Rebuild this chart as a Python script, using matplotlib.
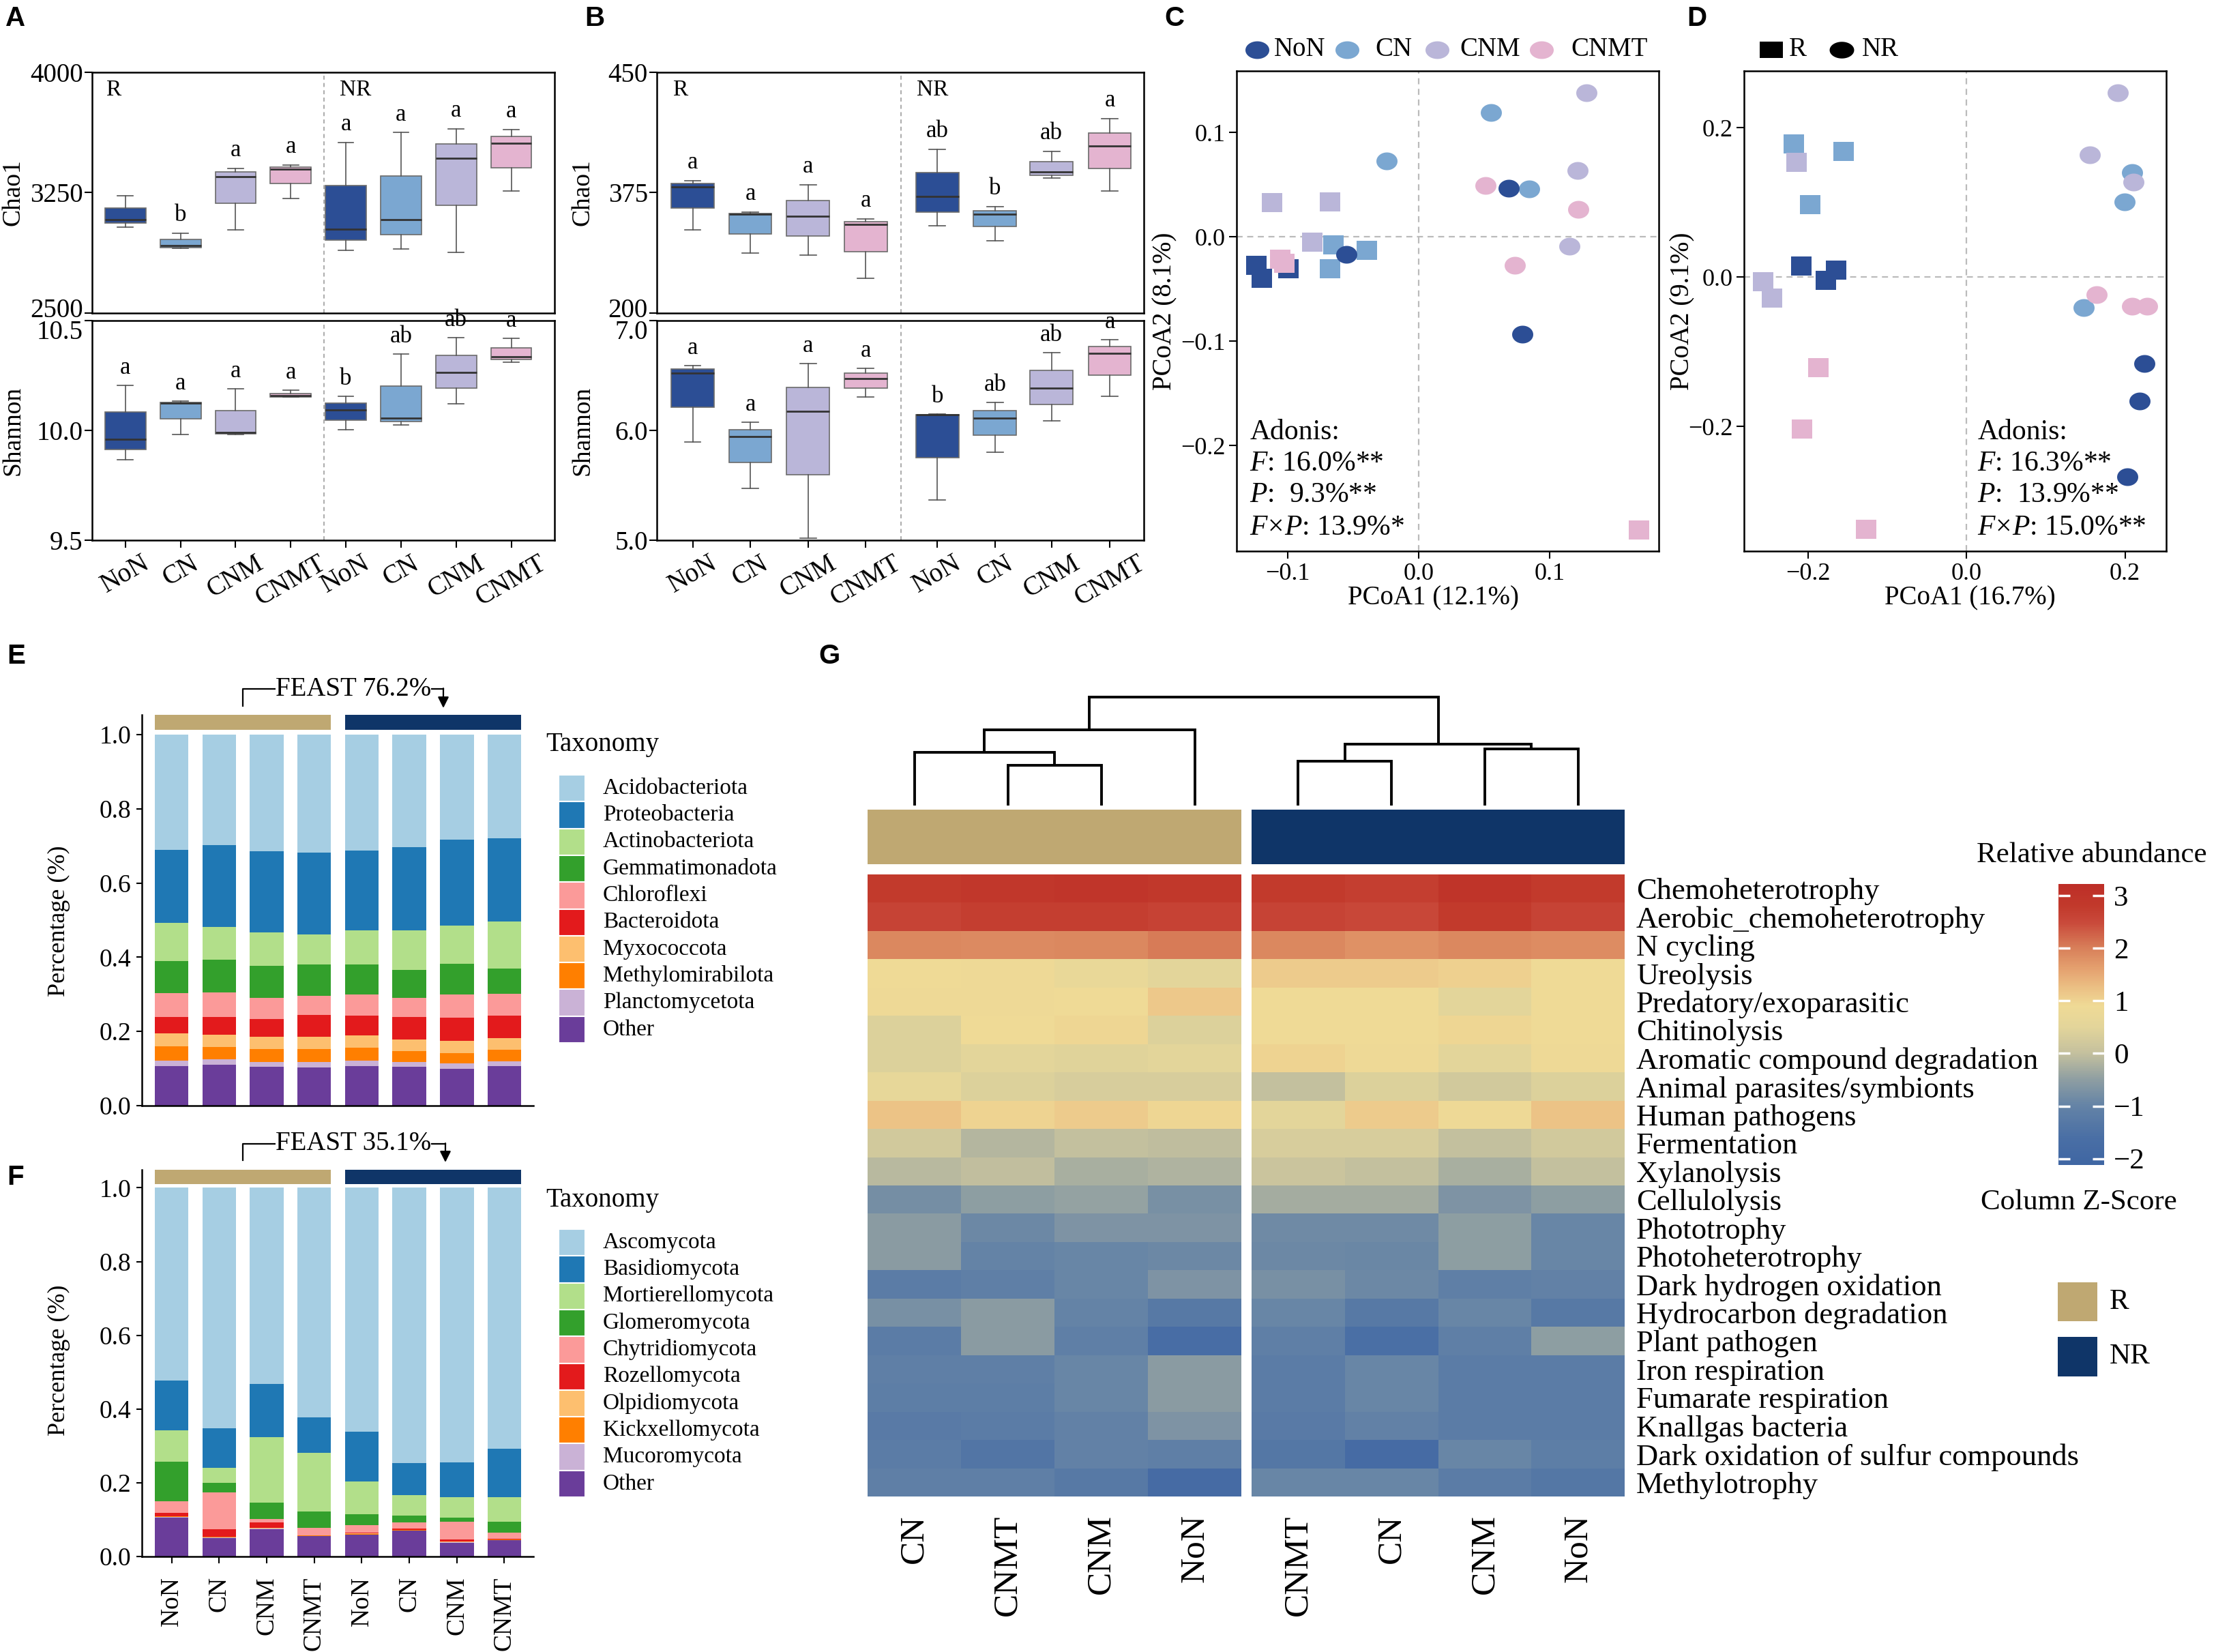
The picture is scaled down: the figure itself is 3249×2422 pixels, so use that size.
import numpy as np
import matplotlib
matplotlib.use('Agg')
import matplotlib.pyplot as plt
from matplotlib.path import Path
from matplotlib.colors import LinearSegmentedColormap, Normalize
from matplotlib.cm import ScalarMappable
from matplotlib.patches import Rectangle
from matplotlib.transforms import ScaledTranslation

plt.rcParams['font.family'] = ['Liberation Serif', 'DejaVu Serif']
plt.rcParams['mathtext.fontset'] = 'custom'
plt.rcParams['mathtext.rm'] = 'Liberation Serif'
plt.rcParams['mathtext.it'] = 'Liberation Serif:italic'
plt.rcParams['mathtext.bf'] = 'Liberation Serif:bold'
plt.rcParams['axes.linewidth'] = 1.8

# ------------------------------------------------------------------ data
treatments = ['NoN', 'CN', 'CNM', 'CNMT']
sites = ['R', 'NR']
box_labels = treatments * 2
treat_colors = {'NoN': '#2C4E95', 'CN': '#7BA7D1', 'CNM': '#BAB6D9', 'CNMT': '#E4B4D0'}
site_colors = ['#BFA872', '#0F3568']

# box stats: [whislo, q1, median, q3, whishi]  (R: NoN CN CNM CNMT, NR: NoN CN CNM CNMT)
a_chao1 = [[3037, 3059, 3083, 3154, 3232], [2905, 2910, 2920, 2959, 2998],
           [3017, 3183, 3349, 3378, 3400], [3212, 3307, 3398, 3410, 3422],
           [2890, 2956, 3024, 3293, 3563], [2898, 2990, 3083, 3354, 3624],
           [2878, 3171, 3463, 3554, 3646], [3259, 3407, 3559, 3600, 3644]]
a_chao1_letters = ['', 'b', 'a', 'a', 'a', 'a', 'a', 'a']
a_shannon = [[9.865, 9.913, 9.959, 10.084, 10.206], [9.980, 10.052, 10.123, 10.126, 10.133],
             [9.980, 9.984, 9.991, 10.091, 10.189], [10.153, 10.153, 10.158, 10.167, 10.183],
             [10.002, 10.046, 10.093, 10.123, 10.155], [10.025, 10.039, 10.055, 10.201, 10.347],
             [10.121, 10.192, 10.265, 10.342, 10.422], [10.311, 10.324, 10.335, 10.377, 10.418]]
a_shannon_letters = ['a', 'a', 'a', 'a', 'b', 'ab', 'ab', 'a']
b_chao1 = [[351.9, 365.3, 378.8, 380.7, 382.5], [337.2, 349.4, 361.7, 362.2, 362.9],
           [336.0, 348.2, 360.4, 370.2, 380.0], [321.5, 338.4, 355.3, 357.0, 358.5],
           [354.3, 363.1, 372.7, 387.4, 402.0], [345.0, 353.8, 361.7, 363.6, 366.3],
           [384.2, 385.9, 388.1, 394.2, 400.6], [375.9, 390.0, 404.2, 412.3, 421.1]]
b_chao1_letters = ['a', 'a', 'a', 'a', 'ab', 'b', 'ab', 'a']
b_shannon = [[5.896, 6.211, 6.522, 6.561, 6.593], [5.474, 5.708, 5.942, 6.009, 6.076],
             [5.021, 5.598, 6.172, 6.391, 6.611], [6.306, 6.384, 6.473, 6.519, 6.568],
             [5.368, 5.750, 6.140, 6.140, 6.147], [5.803, 5.959, 6.111, 6.182, 6.257],
             [6.087, 6.235, 6.384, 6.547, 6.710], [6.313, 6.504, 6.699, 6.763, 6.823]]
b_shannon_letters = ['a', 'a', 'a', 'a', 'b', 'ab', 'ab', 'a']

# PCoA (panel C: bacteria, panel D: fungi)
c_trt = ['CNM', 'CNM', 'CNM', 'CN', 'CN', 'CN', 'NoN', 'NoN', 'NoN', 'CNMT', 'CNMT', 'CNMT',
         'CN', 'CN', 'CN', 'CNM', 'CNM', 'CNM', 'CNMT', 'CNMT', 'CNMT', 'NoN', 'NoN', 'NoN']
c_site = ['R'] * 12 + ['NR'] * 12
c_x = [-0.112, -0.0678, -0.081, -0.065, -0.0398, -0.0678, -0.124, -0.1199, -0.0997, -0.1055, -0.1025, 0.168,
       0.055, -0.0246, 0.0843, 0.128, 0.1213, 0.1146, 0.0507, 0.1216, 0.0731, 0.0686, 0.079, -0.0552]
c_y = [0.0326, 0.0338, -0.0053, -0.0079, -0.0128, -0.0304, -0.0274, -0.0398, -0.0304, -0.0215, -0.0255, -0.2807,
       0.119, 0.073, 0.0462, 0.138, 0.0638, -0.0086, 0.0495, 0.0266, -0.027, 0.0465, -0.093, -0.0169]
d_trt = ['CN', 'CN', 'CN', 'CNM', 'CNM', 'CNM', 'NoN', 'NoN', 'NoN', 'CNMT', 'CNMT', 'CNMT',
         'CN', 'CN', 'CN', 'CNM', 'CNM', 'CNM', 'CNMT', 'CNMT', 'CNMT', 'NoN', 'NoN', 'NoN']
d_site = ['R'] * 12 + ['NR'] * 12
d_x = [-0.2184, -0.1553, -0.1974, -0.2145, -0.257, -0.246, -0.2088, -0.1649, -0.1781, -0.1868, -0.2075, -0.1272,
       0.2092, 0.1991, 0.1478, 0.1908, 0.1557, 0.211, 0.164, 0.2092, 0.2276, 0.2241, 0.218, 0.2026]
d_y = [0.178, 0.1686, 0.0969, 0.1534, -0.0063, -0.0277, 0.0147, 0.0089, -0.0042, -0.1215, -0.2031, -0.3377,
       0.1398, 0.101, -0.0408, 0.2471, 0.1634, 0.1267, -0.0236, -0.0393, -0.0393, -0.1162, -0.166, -0.267]
c_adonis = ['Adonis:', r'$F$: 16.0%**', r'$P$:  9.3%**', r'$F\!\times\!P$: 13.9%*']
d_adonis = ['Adonis:', r'$F$: 16.3%**', r'$P$:  13.9%**', r'$F\!\times\!P$: 15.0%**']

# Stacked composition (8 samples: R NoN CN CNM CNMT, NR NoN CN CNM CNMT)
bac_taxa = ['Acidobacteriota', 'Proteobacteria', 'Actinobacteriota', 'Gemmatimonadota', 'Chloroflexi',
            'Bacteroidota', 'Myxococcota', 'Methylomirabilota', 'Planctomycetota', 'Other']
bac_abund = [[0.311, 0.298, 0.314, 0.319, 0.312, 0.303, 0.284, 0.280],
             [0.197, 0.221, 0.219, 0.219, 0.215, 0.225, 0.231, 0.223],
             [0.103, 0.087, 0.091, 0.082, 0.092, 0.106, 0.102, 0.127],
             [0.085, 0.089, 0.085, 0.085, 0.082, 0.075, 0.083, 0.068],
             [0.065, 0.066, 0.058, 0.051, 0.056, 0.052, 0.063, 0.059],
             [0.044, 0.048, 0.047, 0.059, 0.054, 0.060, 0.062, 0.061],
             [0.036, 0.033, 0.034, 0.033, 0.033, 0.032, 0.033, 0.032],
             [0.037, 0.033, 0.035, 0.035, 0.035, 0.030, 0.028, 0.030],
             [0.016, 0.015, 0.013, 0.014, 0.015, 0.013, 0.014, 0.013],
             [0.106, 0.110, 0.104, 0.103, 0.106, 0.104, 0.100, 0.107]]
fun_taxa = ['Ascomycota', 'Basidiomycota', 'Mortierellomycota', 'Glomeromycota', 'Chytridiomycota',
            'Rozellomycota', 'Olpidiomycota', 'Kickxellomycota', 'Mucoromycota', 'Other']
fun_abund = [[0.523, 0.652, 0.532, 0.622, 0.661, 0.746, 0.744, 0.707],
             [0.135, 0.108, 0.144, 0.096, 0.135, 0.088, 0.095, 0.132],
             [0.084, 0.040, 0.178, 0.159, 0.090, 0.055, 0.056, 0.066],
             [0.108, 0.027, 0.045, 0.046, 0.028, 0.019, 0.011, 0.030],
             [0.032, 0.099, 0.009, 0.019, 0.021, 0.017, 0.048, 0.016],
             [0.008, 0.020, 0.015, 0.001, 0.003, 0.002, 0.006, 0.002],
             [0.001, 0.001, 0.001, 0.000, 0.001, 0.001, 0.001, 0.001],
             [0.001, 0.002, 0.001, 0.001, 0.001, 0.001, 0.001, 0.001],
             [0.002, 0.001, 0.001, 0.001, 0.001, 0.001, 0.001, 0.001],
             [0.106, 0.050, 0.074, 0.055, 0.059, 0.070, 0.037, 0.044]]
taxa_colors = ['#A6CEE3', '#1F78B4', '#B2DF8A', '#33A02C', '#FB9A99',
               '#E31A1C', '#FDBF6F', '#FF7F00', '#CAB2D6', '#6A3D9A']
feast_bac = 'FEAST 76.2%'
feast_fun = 'FEAST 35.1%'

# FAPROTAX heatmap (column z-scores)
functions = ['Chemoheterotrophy', 'Aerobic_chemoheterotrophy', 'N cycling', 'Ureolysis',
             'Predatory/exoparasitic', 'Chitinolysis', 'Aromatic compound degradation',
             'Animal parasites/symbionts', 'Human pathogens', 'Fermentation', 'Xylanolysis',
             'Cellulolysis', 'Phototrophy', 'Photoheterotrophy', 'Dark hydrogen oxidation',
             'Hydrocarbon degradation', 'Plant pathogen', 'Iron respiration', 'Fumarate respiration',
             'Knallgas bacteria', 'Dark oxidation of sulfur compounds', 'Methylotrophy']
heat_R_cols = ['CN', 'CNMT', 'CNM', 'NoN']
heat_NR_cols = ['CNMT', 'CN', 'CNM', 'NoN']
heat_R = [[2.80, 2.90, 2.95, 2.85], [2.60, 2.70, 2.70, 2.62], [1.90, 1.88, 1.90, 2.05],
          [0.90, 0.85, 0.70, 0.50], [0.85, 0.85, 0.90, 1.15], [0.40, 0.90, 0.95, 0.40],
          [0.40, 0.50, 0.45, 0.50], [0.65, 0.40, 0.30, 0.30], [1.20, 1.00, 1.10, 0.95],
          [0.20, -0.15, 0.00, -0.05], [-0.10, -0.02, -0.25, -0.20], [-0.80, -0.50, -0.45, -0.75],
          [-0.55, -0.90, -0.70, -0.70], [-0.55, -1.00, -0.95, -0.90], [-1.20, -1.10, -0.95, -0.70],
          [-0.75, -0.55, -1.00, -1.30], [-1.20, -0.55, -1.10, -1.70], [-1.10, -1.10, -0.95, -0.55],
          [-1.15, -1.15, -0.95, -0.55], [-1.25, -1.20, -1.05, -0.70], [-1.20, -1.40, -1.05, -1.10],
          [-1.10, -1.10, -1.30, -1.80]]
heat_NR = [[2.80, 2.70, 3.00, 2.80], [2.60, 2.55, 2.80, 2.60], [1.90, 1.80, 1.90, 1.85],
           [1.10, 1.10, 1.05, 0.90], [0.90, 0.90, 0.50, 0.90], [0.90, 0.90, 0.95, 0.90],
           [1.00, 0.85, 0.50, 0.85], [0.00, 0.40, 0.20, 0.40], [0.50, 1.10, 0.85, 1.20],
           [0.30, 0.30, 0.00, 0.20], [0.10, 0.00, -0.25, 0.00], [-0.30, -0.30, -0.70, -0.50],
           [-0.85, -0.85, -0.50, -0.95], [-0.90, -0.92, -0.50, -0.95], [-0.75, -0.90, -1.10, -1.05],
           [-0.95, -1.30, -0.95, -1.30], [-1.10, -1.60, -1.10, -0.50], [-1.20, -0.95, -1.20, -1.20],
           [-1.20, -0.95, -1.20, -1.20], [-1.25, -1.05, -1.20, -1.20], [-1.35, -1.80, -0.95, -1.15],
           [-0.95, -0.95, -1.20, -1.35]]
# dendrogram merges over the 8 columns (leaf ids 0-7; new node ids from 8): (child, child, height)
dend_merges = [(1, 2, 59), (0, 8, 78), (9, 3, 111), (4, 5, 65), (6, 7, 83), (11, 12, 90.5), (10, 13, 159)]
cmap_vals = [-2.12, -1.6, -1.0, -0.5, 0.0, 0.5, 0.9, 1.2, 1.6, 2.0, 2.5, 2.8, 3.22]
cmap_cols = ['#3F66A3', '#4A6FA5', '#6483A6', '#8E9EA2', '#C4C09E', '#E3D59A', '#EFDA96',
             '#ECC487', '#E5A270', '#D8805A', '#C9493A', '#C23A2C', '#BD2E27']

# ------------------------------------------------------------------ figure
W, H = 3249, 2422
fig = plt.figure(figsize=(W / 100, H / 100), dpi=100)


def add_ax(x0, y0, x1, y1, **kw):
    return fig.add_axes([x0 / W, 1 - y1 / H, (x1 - x0) / W, (y1 - y0) / H], **kw)


def ellipse_marker(aspect):
    t = np.linspace(0, 2 * np.pi, 73)
    return Path(np.column_stack([np.cos(t), aspect * np.sin(t)]), closed=True)


def rect_marker(aspect):
    return Path([(-1, -aspect), (1, -aspect), (1, aspect), (-1, aspect), (-1, -aspect)],
                [Path.MOVETO, Path.LINETO, Path.LINETO, Path.LINETO, Path.CLOSEPOLY])


def shift_ytick_label(ax, idx, dy_px):
    lab = ax.yaxis.get_major_ticks()[idx].label1
    lab.set_transform(lab.get_transform() + ScaledTranslation(0, dy_px / 100, fig.dpi_scale_trans))


# ---------------- panels A, B (boxplots)
def box_panel(ax, stats, letters, positions, xlim, sep_x, ylim, yticks, yticklabels,
              ylabel, label_x, site_x, show_x):
    st = [dict(whislo=s[0], q1=s[1], med=s[2], q3=s[3], whishi=s[4], fliers=[]) for s in stats]
    w = 0.74
    bp = ax.bxp(st, positions=positions, widths=w, patch_artist=True, showfliers=False,
                capwidths=w * 0.38, manage_ticks=False,
                boxprops=dict(edgecolor='#6B6B6B', linewidth=1.2),
                medianprops=dict(color='#333333', linewidth=2.0),
                whiskerprops=dict(color='#555555', linewidth=1.2),
                capprops=dict(color='#555555', linewidth=1.2))
    for patch, lab in zip(bp['boxes'], box_labels):
        patch.set_facecolor(treat_colors[lab])
    rng = ylim[1] - ylim[0]
    for p, s, l in zip(positions, stats, letters):
        if l:
            ax.text(p, s[4] + 0.028 * rng, l, ha='center', va='bottom', fontsize=25)
    ax.axvline(sep_x, color='#AAAAAA', lw=1.4, ls=(0, (3, 2.5)), zorder=0)
    ax.set_xlim(*xlim)
    ax.set_ylim(*ylim)
    ax.set_yticks(yticks)
    ax.set_yticklabels(yticklabels)
    ax.tick_params(axis='y', labelsize=28, length=8, width=1.5, pad=1.5)
    ax.set_ylabel(ylabel, fontsize=27)
    ax.yaxis.set_label_coords(label_x, 0.5)
    if site_x is not None:
        ax.text(site_x[0], 0.926, sites[0], transform=ax.transAxes, fontsize=24, va='center')
        ax.text(site_x[1], 0.926, sites[1], transform=ax.transAxes, fontsize=24, va='center')
    if show_x:
        ax.set_xticks(positions)
        ax.set_xticklabels(box_labels, rotation=30, ha='center', va='top', fontsize=28)
        ax.tick_params(axis='x', length=8, width=1.5, pad=3)
    else:
        ax.set_xticks([])


posA = [1, 2, 3, 4, 5, 6, 7, 8]
posB = [1, 2, 3, 4, 5.24, 6.24, 7.22, 8.23]
axA1 = add_ax(135, 106, 813, 459)
box_panel(axA1, a_chao1, a_chao1_letters, posA, (0.396, 8.785), 4.6, (2500, 4000),
          [2500, 3250, 4000], ['2500', '3250', '4000'], 'Chao1', -0.146, (0.03, 0.535), False)
axA2 = add_ax(135, 470, 813, 792)
box_panel(axA2, a_shannon, a_shannon_letters, posA, (0.396, 8.785), 4.6, (9.5, 10.5),
          [9.5, 10.0, 10.5], ['9.5', '10.0', '10.5'], 'Shannon', -0.146, None, True)
axB1 = add_ax(963, 106, 1677, 459)
box_panel(axB1, b_chao1, b_chao1_letters, posB, (0.378, 8.82), 4.61, (300, 450),
          [300, 375, 450], ['200', '375', '450'], 'Chao1', -0.128, (0.032, 0.534), False)
axB2 = add_ax(963, 470, 1677, 792)
box_panel(axB2, b_shannon, b_shannon_letters, posB, (0.378, 8.82), 4.61, (5.0, 7.0),
          [5.0, 6.0, 7.0], ['5.0', '6.0', '7.0'], 'Shannon', -0.128, None, True)
for a_top, a_bot in [(axA1, axA2), (axB1, axB2)]:
    shift_ytick_label(a_top, 0, 8)
    shift_ytick_label(a_bot, 2, -13)


# ---------------- panels C, D (PCoA)
sq_m = rect_marker(0.92)
ci_m = ellipse_marker(0.84)


def pcoa_panel(ax, xs, ys, trts, sts, xlim, ylim, xticks, yticks, xlabel, ylabel,
               ylab_x, xlab_x, adonis, adonis_x):
    ax.axvline(0, color='#BBBBBB', lw=1.6, ls=(0, (4, 3)), zorder=0)
    ax.axhline(0, color='#BBBBBB', lw=1.6, ls=(0, (4, 3)), zorder=0)
    for x, y, t, s in zip(xs, ys, trts, sts):
        if s == 'R':
            ax.scatter([x], [y], marker=sq_m, s=467, color=treat_colors[t], linewidths=0, zorder=3)
    for x, y, t, s in zip(xs, ys, trts, sts):
        if s == 'NR':
            ax.scatter([x], [y], marker=ci_m, s=497, color=treat_colors[t], linewidths=0, zorder=4)
    ax.set_xlim(*xlim)
    ax.set_ylim(*ylim)
    ax.set_xticks(xticks)
    ax.set_yticks(yticks)
    ax.tick_params(labelsize=26, length=8, width=1.5, pad=4)
    ax.set_xlabel(xlabel, fontsize=28)
    ax.set_ylabel(ylabel, fontsize=28)
    ax.yaxis.set_label_coords(ylab_x, 0.5)
    ax.xaxis.set_label_coords(xlab_x, -0.072)
    for line, yy in zip(adonis, [0.247, 0.182, 0.117, 0.049]):
        ax.text(adonis_x, yy, line, transform=ax.transAxes, fontsize=30, va='center', ha='left', zorder=2)


axC = add_ax(1813, 104, 2432, 808)
pcoa_panel(axC, c_x, c_y, c_trt, c_site, (-0.139, 0.183), (-0.301, 0.159), [-0.1, 0.0, 0.1],
           [-0.2, -0.1, 0.0, 0.1], 'PCoA1 (12.1%)', 'PCoA2 (8.1%)', -0.14, 0.466, c_adonis, 0.031)
axD = add_ax(2557, 104, 3176, 808)
pcoa_panel(axD, d_x, d_y, d_trt, d_site, (-0.281, 0.252), (-0.367, 0.276), [-0.2, 0.0, 0.2],
           [-0.2, 0.0, 0.2], 'PCoA1 (16.7%)', 'PCoA2 (9.1%)', -0.115, 0.535, d_adonis, 0.553)


# ---------------- panels E, F (stacked bars)
def stack_panel(ax, abund, top, strip_lo, show_x, ylab_y):
    xpos = np.arange(1, 9)
    w = 0.71
    bottom = np.zeros(8)
    for vals, col in reversed(list(zip(abund, taxa_colors))):
        ax.bar(xpos, vals, width=w, bottom=bottom, color=col, linewidth=0)
        bottom = bottom + np.array(vals)
    for k, col in enumerate(site_colors):
        g = xpos[4 * k:4 * k + 4]
        ax.bar((g[0] + g[-1]) / 2, top - strip_lo, width=g[-1] - g[0] + w, bottom=strip_lo,
               color=col, linewidth=0)
    ax.set_xlim(0.373, 8.61)
    ax.set_ylim(0, top)
    ax.spines['top'].set_visible(False)
    ax.spines['right'].set_visible(False)
    ax.set_yticks([0, 0.2, 0.4, 0.6, 0.8, 1.0])
    ax.set_yticklabels(['0.0', '0.2', '0.4', '0.6', '0.8', '1.0'])
    ax.tick_params(axis='y', labelsize=27, length=6, width=1.5, pad=5)
    ax.set_ylabel('Percentage (%)', fontsize=26)
    ax.yaxis.set_label_coords(-0.183, ylab_y)
    if show_x:
        ax.set_xticks(xpos)
        ax.set_xticklabels(box_labels, rotation=90, ha='center', va='top', fontsize=27)
        ax.tick_params(axis='x', length=7, width=1.5, pad=14)
    else:
        ax.set_xticks([])


axE = add_ax(208, 1048, 782, 1621)
stack_panel(axE, bac_abund, 1.053, 1.013, False, 0.473)
axF = add_ax(208, 1715, 782, 2282)
stack_panel(axF, fun_abund, 1.049, 1.011, True, 0.508)

# ---------------- panel G (heatmap)
vmin, vmax = cmap_vals[0], cmap_vals[-1]
cmap = LinearSegmentedColormap.from_list(
    'hm', [((v - vmin) / (vmax - vmin), c) for v, c in zip(cmap_vals, cmap_cols)])
nrow = len(functions)
axHR = add_ax(1272, 1282, 1820, 2194)
axHN = add_ax(1835, 1282, 2382, 2194)
for ax, data, cols in [(axHR, heat_R, heat_R_cols), (axHN, heat_NR, heat_NR_cols)]:
    ax.pcolormesh(np.array(data), cmap=cmap, vmin=vmin, vmax=vmax, edgecolors='none', antialiased=False)
    ax.set_ylim(nrow, 0)
    ax.set_xlim(0, 4)
    ax.set_xticks(np.arange(4) + 0.5)
    ax.set_xticklabels(cols, rotation=90, va='top', fontsize=37)
    ax.tick_params(axis='x', length=0, pad=19)
    for s in ax.spines.values():
        s.set_visible(False)
axHR.set_yticks([])
axHN.yaxis.tick_right()
axHN.set_yticks(np.arange(nrow) + 0.5)
axHN.set_yticklabels(functions, fontsize=32)
axHN.tick_params(axis='y', length=0, pad=12)

for (x0, x1), col in zip([(1272, 1820), (1835, 2382)], site_colors):
    a = add_ax(x0, 1187, x1, 1267)
    a.set_facecolor(col)
    a.set_xticks([])
    a.set_yticks([])
    for s in a.spines.values():
        s.set_visible(False)

axDen = add_ax(1272, 1015, 2382, 1181)
axDen.set_xlim(1272, 2382)
axDen.set_ylim(0, 166)
axDen.axis('off')
node_x = [1272 + 137 * (i + 0.5) for i in range(4)] + [1835 + 136.75 * (i + 0.5) for i in range(4)]
node_h = [0.0] * 8
for a_, b_, h in dend_merges:
    xa, xb = node_x[a_], node_x[b_]
    axDen.plot([xa, xa, xb, xb], [node_h[a_], h, h, node_h[b_]], color='black', lw=2.8,
               solid_joinstyle='miter', solid_capstyle='butt')
    node_x.append((xa + xb) / 2)
    node_h.append(h)

cax = add_ax(3018, 1296, 3085, 1708)
cb = fig.colorbar(ScalarMappable(norm=Normalize(vmin, vmax), cmap=cmap), cax=cax,
                  ticks=[-2, -1, 0, 1, 2, 3])
cb.outline.set_visible(False)
cax.tick_params(axis='y', which='major', direction='in', length=12, width=2.5, color='white',
                labelcolor='black', labelsize=31, pad=10, left=True, right=True,
                labelleft=False, labelright=True)
cax.tick_params(axis='y', which='minor', length=0)

# ---------------- overlay (legends, letters, annotations)
cv = add_ax(0, 0, W, H)
cv.set_xlim(0, W)
cv.set_ylim(H, 0)
cv.axis('off')

for lab, (x, y) in zip('ABCDEFG', [(8, 27), (857, 27), (1707, 27), (2473, 27),
                                   (10, 962), (10, 1726), (1200, 962)]):
    cv.text(x, y, lab, fontfamily='Liberation Sans', fontweight='bold', fontsize=29,
            ha='left', va='center')

# legend C
leg_m = ellipse_marker(0.74)
for t, mx, tx in zip(treatments, [1843, 1975, 2107, 2260], [1868, 2016, 2140, 2303]):
    cv.scatter([mx], [73], marker=leg_m, s=635, color=treat_colors[t], linewidths=0)
    cv.text(tx, 73, t, fontsize=28, va='center', ha='left')
# legend D
cv.scatter([2597], [73], marker=rect_marker(0.7), s=600, color='black', linewidths=0)
cv.text(2623, 73, sites[0], fontsize=28, va='center', ha='left')
cv.scatter([2700], [73], marker=ellipse_marker(0.68), s=670, color='black', linewidths=0)
cv.text(2730, 73, sites[1], fontsize=28, va='center', ha='left')

# legends E, F
for taxa, title_y, key_y0 in [(bac_taxa, 1092, 1136), (fun_taxa, 1760, 1802)]:
    cv.text(800, title_y, 'Taxonomy', fontsize=28, va='center', ha='left')
    for i, (name, col) in enumerate(zip(taxa, taxa_colors)):
        y0 = key_y0 + 39.3 * i
        cv.add_patch(Rectangle((819, y0), 39, 39.3, facecolor=col, edgecolor='white', lw=1.5))
        cv.text(884, y0 + 19.6, name, fontsize=24, va='center', ha='left')

# FEAST brackets
for txt, yl, yb, xa in [(feast_bac, 1010, 1035, 650), (feast_fun, 1677, 1701, 653)]:
    cv.plot([356, 356, xa], [yb, yl, yl], color='black', lw=1.6)
    cv.annotate('', xy=(xa, yb + 3), xytext=(xa, yl - 0.8),
                arrowprops=dict(arrowstyle='-|>', lw=1.6, color='black', mutation_scale=24,
                                shrinkA=0, shrinkB=0))
    cv.text(518, yl, txt, fontsize=28, ha='center', va='center',
            bbox=dict(facecolor='white', edgecolor='none', pad=0))

# heatmap legend texts
cv.text(2898, 1254, 'Relative abundance', fontsize=31, ha='left', va='center')
cv.text(2904, 1763, 'Column Z-Score', fontsize=31, ha='left', va='center')
for (y0, y1), col, lab in zip([(1880, 1937), (1960, 2018)], site_colors, sites):
    cv.add_patch(Rectangle((3017, y0), 58, y1 - y0, facecolor=col, edgecolor='none'))
    cv.text(3093, (y0 + y1) / 2, lab, fontsize=31, ha='left', va='center')

fig.savefig('out.png', dpi=100)
